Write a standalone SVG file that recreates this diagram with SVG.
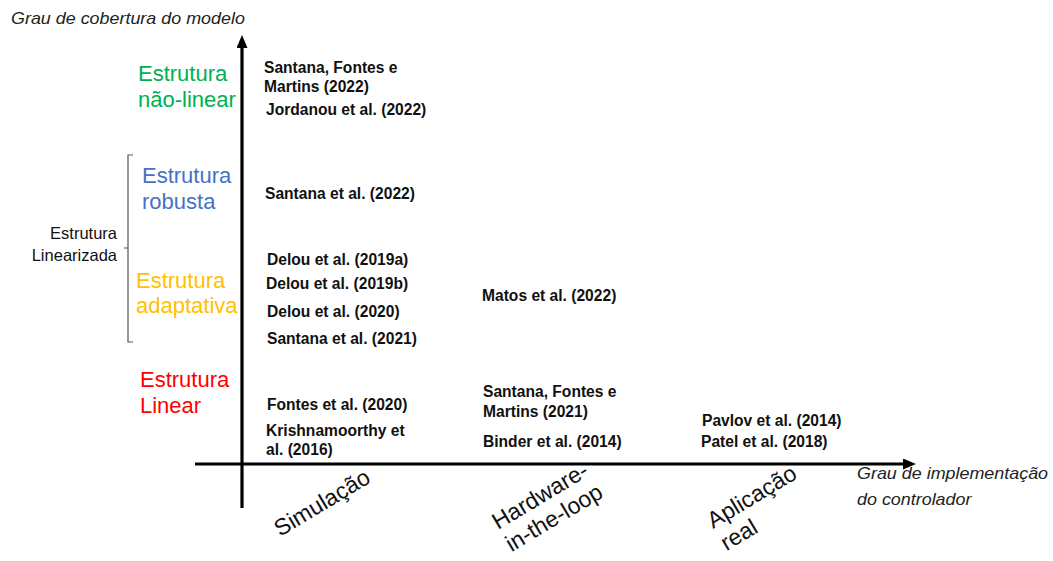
<svg xmlns="http://www.w3.org/2000/svg" width="1053" height="561" viewBox="0 0 1053 561">
<style>
  .axis-title { font-family: "Liberation Sans", Arial, sans-serif; font-style: italic; font-size: 16px; fill: #222; }
  .cat { font-family: "Liberation Sans", Arial, sans-serif; font-size: 22px; }
  .ref { font-family: "Liberation Sans", Arial, sans-serif; font-weight: bold; font-size: 15.6px; fill: #111; }
  .lin { font-family: "Liberation Sans", Arial, sans-serif; font-size: 16.5px; fill: #111; }
  .xcat { font-family: "Liberation Sans", Arial, sans-serif; font-size: 23px; fill: #111; }
  .axis { stroke: #000; stroke-width: 3.2; fill: none; }
  .bracket { stroke: #555; stroke-width: 1.2; fill: none; }
</style>
<defs>
  <marker id="arrow" viewBox="0 0 13 11" refX="0" refY="5.5" markerWidth="13" markerHeight="11" markerUnits="userSpaceOnUse" orient="auto">
    <path d="M0,0 L13,5.5 L0,11 z" fill="#000"/>
  </marker>
</defs>
<rect width="1053" height="561" fill="#fff"/>

<g id="connectors">
  <line class="axis" x1="242" y1="508" x2="242" y2="48" marker-end="url(#arrow)"/>
  <line class="axis" x1="195" y1="464" x2="903" y2="464" marker-end="url(#arrow)"/>
  <path class="bracket" d="M133,155 H128 V342 H133 M128,248 H124"/>
</g>

<g id="y-axis-title" transform="translate(11,24) scale(1.12,1)"><text class="axis-title" x="0" y="0">Grau de cobertura do modelo</text></g>
<g id="x-axis-title" transform="translate(857,479) scale(1.12,1)">
  <text class="axis-title" x="0" y="0">Grau de implementação</text>
  <text class="axis-title" x="0" y="26">do controlador</text>
</g>

<g id="cat-nonlinear"><text class="cat" fill="#00B050" x="138" y="81">Estrutura</text><text class="cat" fill="#00B050" x="138" y="107">não-linear</text></g>
<g id="cat-robust"><text class="cat" fill="#4472C4" x="142" y="183">Estrutura</text><text class="cat" fill="#4472C4" x="142" y="209">robusta</text></g>
<g id="cat-linearized"><text class="lin" text-anchor="end" x="117" y="239">Estrutura</text><text class="lin" text-anchor="end" x="117" y="261">Linearizada</text></g>
<g id="cat-adaptive"><text class="cat" fill="#FFC000" x="136" y="288">Estrutura</text><text class="cat" fill="#FFC000" x="136" y="313">adaptativa</text></g>
<g id="cat-linear"><text class="cat" fill="#FF0000" x="140" y="387">Estrutura</text><text class="cat" fill="#FF0000" x="140" y="413">Linear</text></g>

<g id="ref-santana-fontes-martins-2022"><text class="ref" x="264" y="73">Santana, Fontes e</text><text class="ref" x="264" y="92">Martins (2022)</text></g>
<g id="ref-jordanou-2022"><text class="ref" x="266" y="115">Jordanou et al. (2022)</text></g>
<g id="ref-santana-2022"><text class="ref" x="265" y="199">Santana et al. (2022)</text></g>
<g id="ref-delou-2019a"><text class="ref" x="267" y="265">Delou et al. (2019a)</text></g>
<g id="ref-delou-2019b"><text class="ref" x="266" y="289">Delou et al. (2019b)</text></g>
<g id="ref-delou-2020"><text class="ref" x="267" y="317">Delou et al. (2020)</text></g>
<g id="ref-santana-2021"><text class="ref" x="267" y="344">Santana et al. (2021)</text></g>
<g id="ref-fontes-2020"><text class="ref" x="267" y="410">Fontes et al. (2020)</text></g>
<g id="ref-krishnamoorthy-2016"><text class="ref" x="266" y="436">Krishnamoorthy et</text><text class="ref" x="266" y="455">al. (2016)</text></g>
<g id="ref-matos-2022"><text class="ref" x="482" y="301">Matos et al. (2022)</text></g>
<g id="ref-santana-fontes-martins-2021"><text class="ref" x="483" y="397">Santana, Fontes e</text><text class="ref" x="483" y="417">Martins (2021)</text></g>
<g id="ref-binder-2014"><text class="ref" x="483" y="447">Binder et al. (2014)</text></g>
<g id="ref-pavlov-2014"><text class="ref" x="702" y="426">Pavlov et al. (2014)</text></g>
<g id="ref-patel-2018"><text class="ref" x="701" y="447">Patel et al. (2018)</text></g>

<g id="x-simulacao" transform="translate(280,537) rotate(-31)"><text class="xcat" x="0" y="0">Simulação</text></g>
<g id="x-hil" transform="translate(498,530) rotate(-31)"><text class="xcat" x="0" y="0">Hardware-</text><text class="xcat" x="0" y="26">in-the-loop</text></g>
<g id="x-aplicacao" transform="translate(713,529) rotate(-31)"><text class="xcat" x="0" y="0">Aplicação</text><text class="xcat" x="0" y="26">real</text></g>
</svg>
